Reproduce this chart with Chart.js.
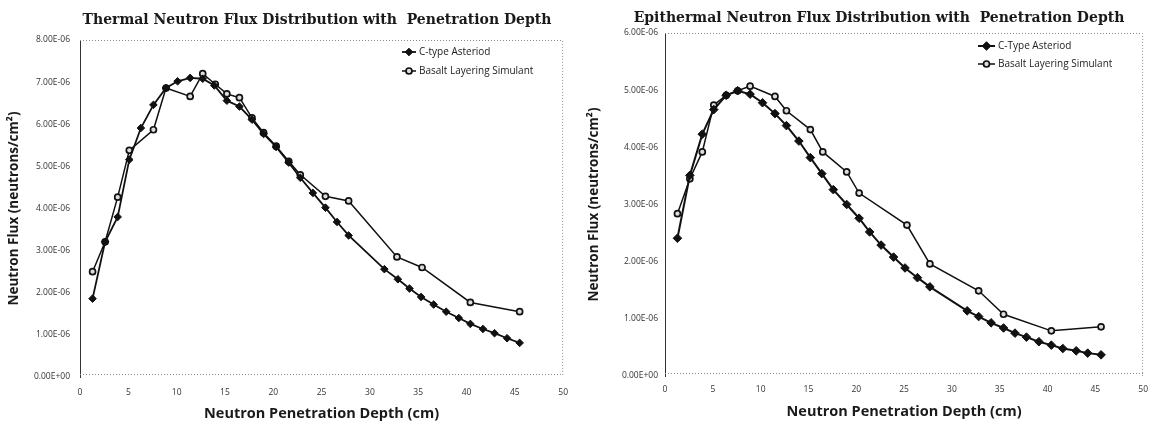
<!DOCTYPE html>
<html><head><meta charset="utf-8">
<script src="https://cdn.jsdelivr.net/npm/chart.js@4.4.0/dist/chart.umd.min.js"></script>
<style>
html,body{margin:0;padding:0;background:#fff;}
#wrap{position:relative;width:1156px;height:423px;overflow:hidden;}
.box{position:absolute;top:0;width:578px;height:423px;}
canvas{display:block;}
</style></head><body>
<div id="wrap">
<div class="box" style="left:0"><canvas id="c1" width="578" height="423"></canvas></div>
<div class="box" style="left:578px"><canvas id="c2" width="578" height="423"></canvas></div>
</div>
<script>
// ---------- data ----------
const xTickValues = [0,5,10,15,20,25,30,35,40,45,50];
const thermalYTickLabels = ['0.00E+00','1.00E-06','2.00E-06','3.00E-06','4.00E-06','5.00E-06','6.00E-06','7.00E-06','8.00E-06'];
const epiYTickLabels = ['0.00E+00','1.00E-06','2.00E-06','3.00E-06','4.00E-06','5.00E-06','6.00E-06'];
const seriesNamesThermal = ['C-type Asteriod','Basalt Layering Simulant'];
const seriesNamesEpi = ['C-Type Asteriod','Basalt Layering Simulant'];

// Thermal chart (flux in units of 1e-6 neutrons/cm2)
const thermalCtypeDepth = [1.3,2.6,3.9,5.1,6.3,7.6,8.9,10.1,11.4,12.7,13.9,15.2,16.5,17.8,19.0,20.3,21.6,22.8,24.1,25.4,26.6,27.8,31.5,32.9,34.1,35.3,36.6,37.9,39.2,40.4,41.7,42.9,44.2,45.5];
const thermalCtypeFlux  = [1.86,3.21,3.80,5.16,5.91,6.46,6.86,7.02,7.10,7.08,6.92,6.56,6.42,6.11,5.77,5.46,5.09,4.73,4.37,4.02,3.68,3.36,2.56,2.32,2.10,1.90,1.72,1.55,1.40,1.26,1.14,1.04,0.92,0.81];
const thermalBasaltDepth = [1.3,2.6,3.9,5.1,7.6,8.9,11.4,12.7,14.0,15.2,16.5,17.8,19.0,20.3,21.6,22.8,25.4,27.8,32.8,35.4,40.4,45.5];
const thermalBasaltFlux  = [2.50,3.21,4.27,5.38,5.87,6.86,6.66,7.20,6.95,6.72,6.63,6.15,5.80,5.48,5.12,4.80,4.29,4.18,2.85,2.60,1.77,1.55];

// Epithermal chart (flux in units of 1e-6 neutrons/cm2)
const epiCtypeDepth = [1.3,2.6,3.9,5.1,6.4,7.6,8.9,10.2,11.5,12.7,14.0,15.2,16.4,17.6,19.0,20.3,21.4,22.6,23.9,25.1,26.4,27.7,31.6,32.8,34.1,35.4,36.6,37.8,39.1,40.4,41.6,43.0,44.2,45.6];
const epiCtypeFlux  = [2.41,3.51,4.23,4.66,4.91,4.99,4.93,4.78,4.59,4.38,4.11,3.82,3.54,3.26,3.00,2.76,2.52,2.29,2.08,1.89,1.72,1.56,1.14,1.04,0.93,0.84,0.75,0.68,0.60,0.54,0.48,0.44,0.40,0.37];
const epiBasaltDepth = [1.3,2.6,3.9,5.1,6.4,7.6,8.9,11.5,12.7,15.2,16.5,19.0,20.3,25.3,27.7,32.8,35.4,40.4,45.6];
const epiBasaltFlux  = [2.84,3.45,3.92,4.74,4.91,4.99,5.07,4.89,4.64,4.31,3.92,3.57,3.20,2.64,1.96,1.49,1.08,0.79,0.86];

const UNIT = 1e-6;
function pts(xs, ys){ return xs.map((x,i)=>({x:x, y:ys[i]*UNIT})); }

// ---------- chart builder ----------
function buildChart(canvasId, cfg){
  const frame = {
    id:'frame',
    beforeDatasetsDraw(chart){
      const {ctx, chartArea:a} = chart;
      ctx.save();
      ctx.strokeStyle = '#8a8a8a';
      ctx.lineWidth = 1;
      ctx.setLineDash([1,2]);
      ctx.beginPath();
      ctx.moveTo(a.left, a.top+0.5);
      ctx.lineTo(a.right-0.5, a.top+0.5);
      ctx.lineTo(a.right-0.5, a.bottom);
      ctx.stroke();
      ctx.beginPath();
      ctx.moveTo(a.left, a.bottom-2.5);
      ctx.lineTo(a.right, a.bottom-2.5);
      ctx.stroke();
      ctx.restore();
    },
    afterDraw(chart){
      const {ctx} = chart;
      ctx.save();
      // title
      ctx.fillStyle = '#1a1a1a';
      ctx.font = 'bold 14px "DejaVu Serif"';
      ctx.textAlign = 'center';
      ctx.textBaseline = 'middle';
      ctx.fillText(cfg.title, cfg.titleX, cfg.titleY);
      // legend
      ctx.font = cfg.legendFont;
      ctx.textAlign = 'left';
      chart.data.datasets.forEach((ds, i)=>{
        const y = cfg.legendY[i];
        ctx.strokeStyle = '#111';
        ctx.lineWidth = ds.borderWidth;
        ctx.setLineDash([]);
        ctx.beginPath();
        ctx.moveTo(cfg.legendX, y);
        ctx.lineTo(cfg.legendX + cfg.legendLine, y);
        ctx.stroke();
        ctx.fillStyle = ds.pointBackgroundColor;
        ctx.strokeStyle = ds.pointBorderColor;
        ctx.lineWidth = ds.pointBorderWidth;
        Chart.helpers.drawPoint(ctx, {pointStyle: ds.pointStyle, radius: ds.pointRadius, rotation:0, borderWidth: ds.pointBorderWidth}, cfg.legendX + cfg.legendLine/2, y);
        ctx.fillStyle = '#222';
        ctx.fillText(ds.label, cfg.legendX + cfg.legendLine + 3, y);
      });
      ctx.restore();
    }
  };

  return new Chart(document.getElementById(canvasId), {
    type: 'scatter',
    data: {
      datasets: [
        {
          label: cfg.names[0],
          data: pts(cfg.cX, cfg.cY),
          showLine: true,
          borderColor: '#111',
          borderWidth: cfg.cLine,
          pointStyle: 'rectRot',
          pointRadius: cfg.cRadius,
          pointBackgroundColor: '#111',
          pointBorderColor: '#111',
          pointBorderWidth: 1,
          tension: 0
        },
        {
          label: cfg.names[1],
          data: pts(cfg.bX, cfg.bY),
          showLine: true,
          borderColor: '#111',
          borderWidth: cfg.bLine,
          pointStyle: 'circle',
          pointRadius: cfg.bRadius,
          pointBackgroundColor: '#ddd',
          pointBorderColor: '#111',
          pointBorderWidth: 1.7,
          tension: 0
        }
      ]
    },
    options: {
      responsive: false,
      animation: false,
      events: [],
      layout: { padding: { left: 0, top: cfg.top, right: cfg.right, bottom: 0 } },
      plugins: { legend: { display: false }, title: { display: false }, tooltip: { enabled: false } },
      scales: {
        x: {
          type: 'linear',
          min: 0, max: 50,
          afterBuildTicks(s){ s.ticks = xTickValues.map(v=>({value:v})); },
          afterFit(s){ s.height = cfg.xHeight; },
          grid: { display: false, drawTicks: false },
          border: { display: false },
          ticks: { padding: cfg.xTickPad, color: '#333', font: { family: 'Open Sans', size: 8.5 }, maxRotation: 0, autoSkip: false },
          title: { display: true, text: 'Neutron Penetration Depth (cm)', color: '#1a1a1a',
                   font: { family: 'Open Sans', weight: 'bold', size: 14.5 }, padding: { top: 0, bottom: cfg.xTitlePad } }
        },
        y: {
          type: 'linear',
          min: 0, max: (cfg.yLabels.length - 1) * UNIT,
          afterBuildTicks(s){ s.ticks = cfg.yLabels.map((_,i)=>({value:i*UNIT})); },
          afterFit(s){ s.width = cfg.yWidth; },
          grid: { display: false, drawTicks: false },
          border: { display: true, color: '#333', width: 1 },
          ticks: { padding: cfg.yTickPad, color: '#333', font: { family: 'Open Sans', size: 8.5 },
                   callback: (v)=> cfg.yLabels[Math.round(v/UNIT)] },
          title: { display: true, text: 'Neutron Flux (neutrons/cm²)', color: '#1a1a1a',
                   font: { family: 'Open Sans', weight: 'bold', size: 13.5 }, padding: { top: cfg.yTitlePad, bottom: 0 } }
        }
      }
    },
    plugins: [frame]
  });
}

buildChart('c1', {
  names: seriesNamesThermal,
  cX: thermalCtypeDepth, cY: thermalCtypeFlux,
  bX: thermalBasaltDepth, bY: thermalBasaltFlux,
  yLabels: thermalYTickLabels,
  cLine: 1.8, bLine: 1.5, cRadius: 3.8, bRadius: 3,
  top: 40, right: 13, xHeight: 46, yWidth: 80,
  xTickPad: 10, yTickPad: 10, xTitlePad: 0, yTitlePad: 6,
  title: 'Thermal Neutron Flux Distribution with  Penetration Depth', titleX: 317, titleY: 20,
  legendX: 402, legendLine: 14, legendY: [52, 71], legendFont: '10px "Open Sans"'
});

buildChart('c2', {
  names: seriesNamesEpi,
  cX: epiCtypeDepth, cY: epiCtypeFlux,
  bX: epiBasaltDepth, bY: epiBasaltFlux,
  yLabels: epiYTickLabels,
  cLine: 2, bLine: 1.5, cRadius: 4.3, bRadius: 3,
  top: 33, right: 8, xHeight: 47, yWidth: 87,
  xTickPad: 8, yTickPad: 7, xTitlePad: 2, yTitlePad: 8,
  title: 'Epithermal Neutron Flux Distribution with  Penetration Depth', titleX: 301, titleY: 18,
  legendX: 400, legendLine: 17, legendY: [46, 64], legendFont: '10px "Open Sans"'
});
</script>
</body></html>
